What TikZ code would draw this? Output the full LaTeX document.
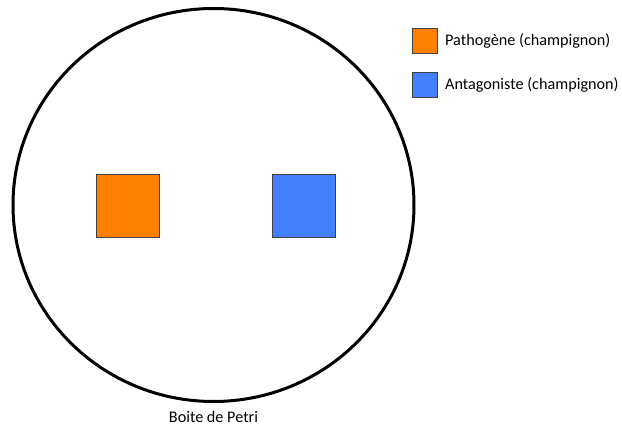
\documentclass[tikz,border=0pt]{standalone}
\usepackage{fontspec}
\setmainfont{Carlito}
\usetikzlibrary{shapes.geometric}
\definecolor{porange}{RGB}{255,128,0}
\definecolor{ablue}{RGB}{66,128,255}
\begin{document}
\begin{tikzpicture}[x=1pt,y=-1pt,
  sq/.style={draw=black!75,line width=0.8pt,minimum size=63pt,inner sep=0pt},
  lsq/.style={draw=black!75,line width=0.8pt,minimum size=25pt,inner sep=0pt},
  txt/.style={font=\fontsize{16.2}{19}\selectfont,inner sep=0pt},
  lab/.style={txt,anchor=west}]
\useasboundingbox (0,0) rectangle (622,428);
\node[draw,line width=3pt,ellipse,minimum width=401pt,minimum height=393pt,inner sep=0pt] (dish) at (213.5,205) {};
\node[sq,fill=porange] (path) at (127.5,206) {};
\node[sq,fill=ablue] (anta) at (303.5,206) {};
\node[txt] (lbl) at (213.5,417) {Boite de Petri};
\node[lsq,fill=porange] (lp) at (424.5,40.5) {};
\node[lsq,fill=ablue] (la) at (424.5,85) {};
\node[lab] (tp) at (445,41) {Pathogène (champignon)};
\node[lab] (ta) at (445,85) {Antagoniste (champignon)};
\end{tikzpicture}
\end{document}
